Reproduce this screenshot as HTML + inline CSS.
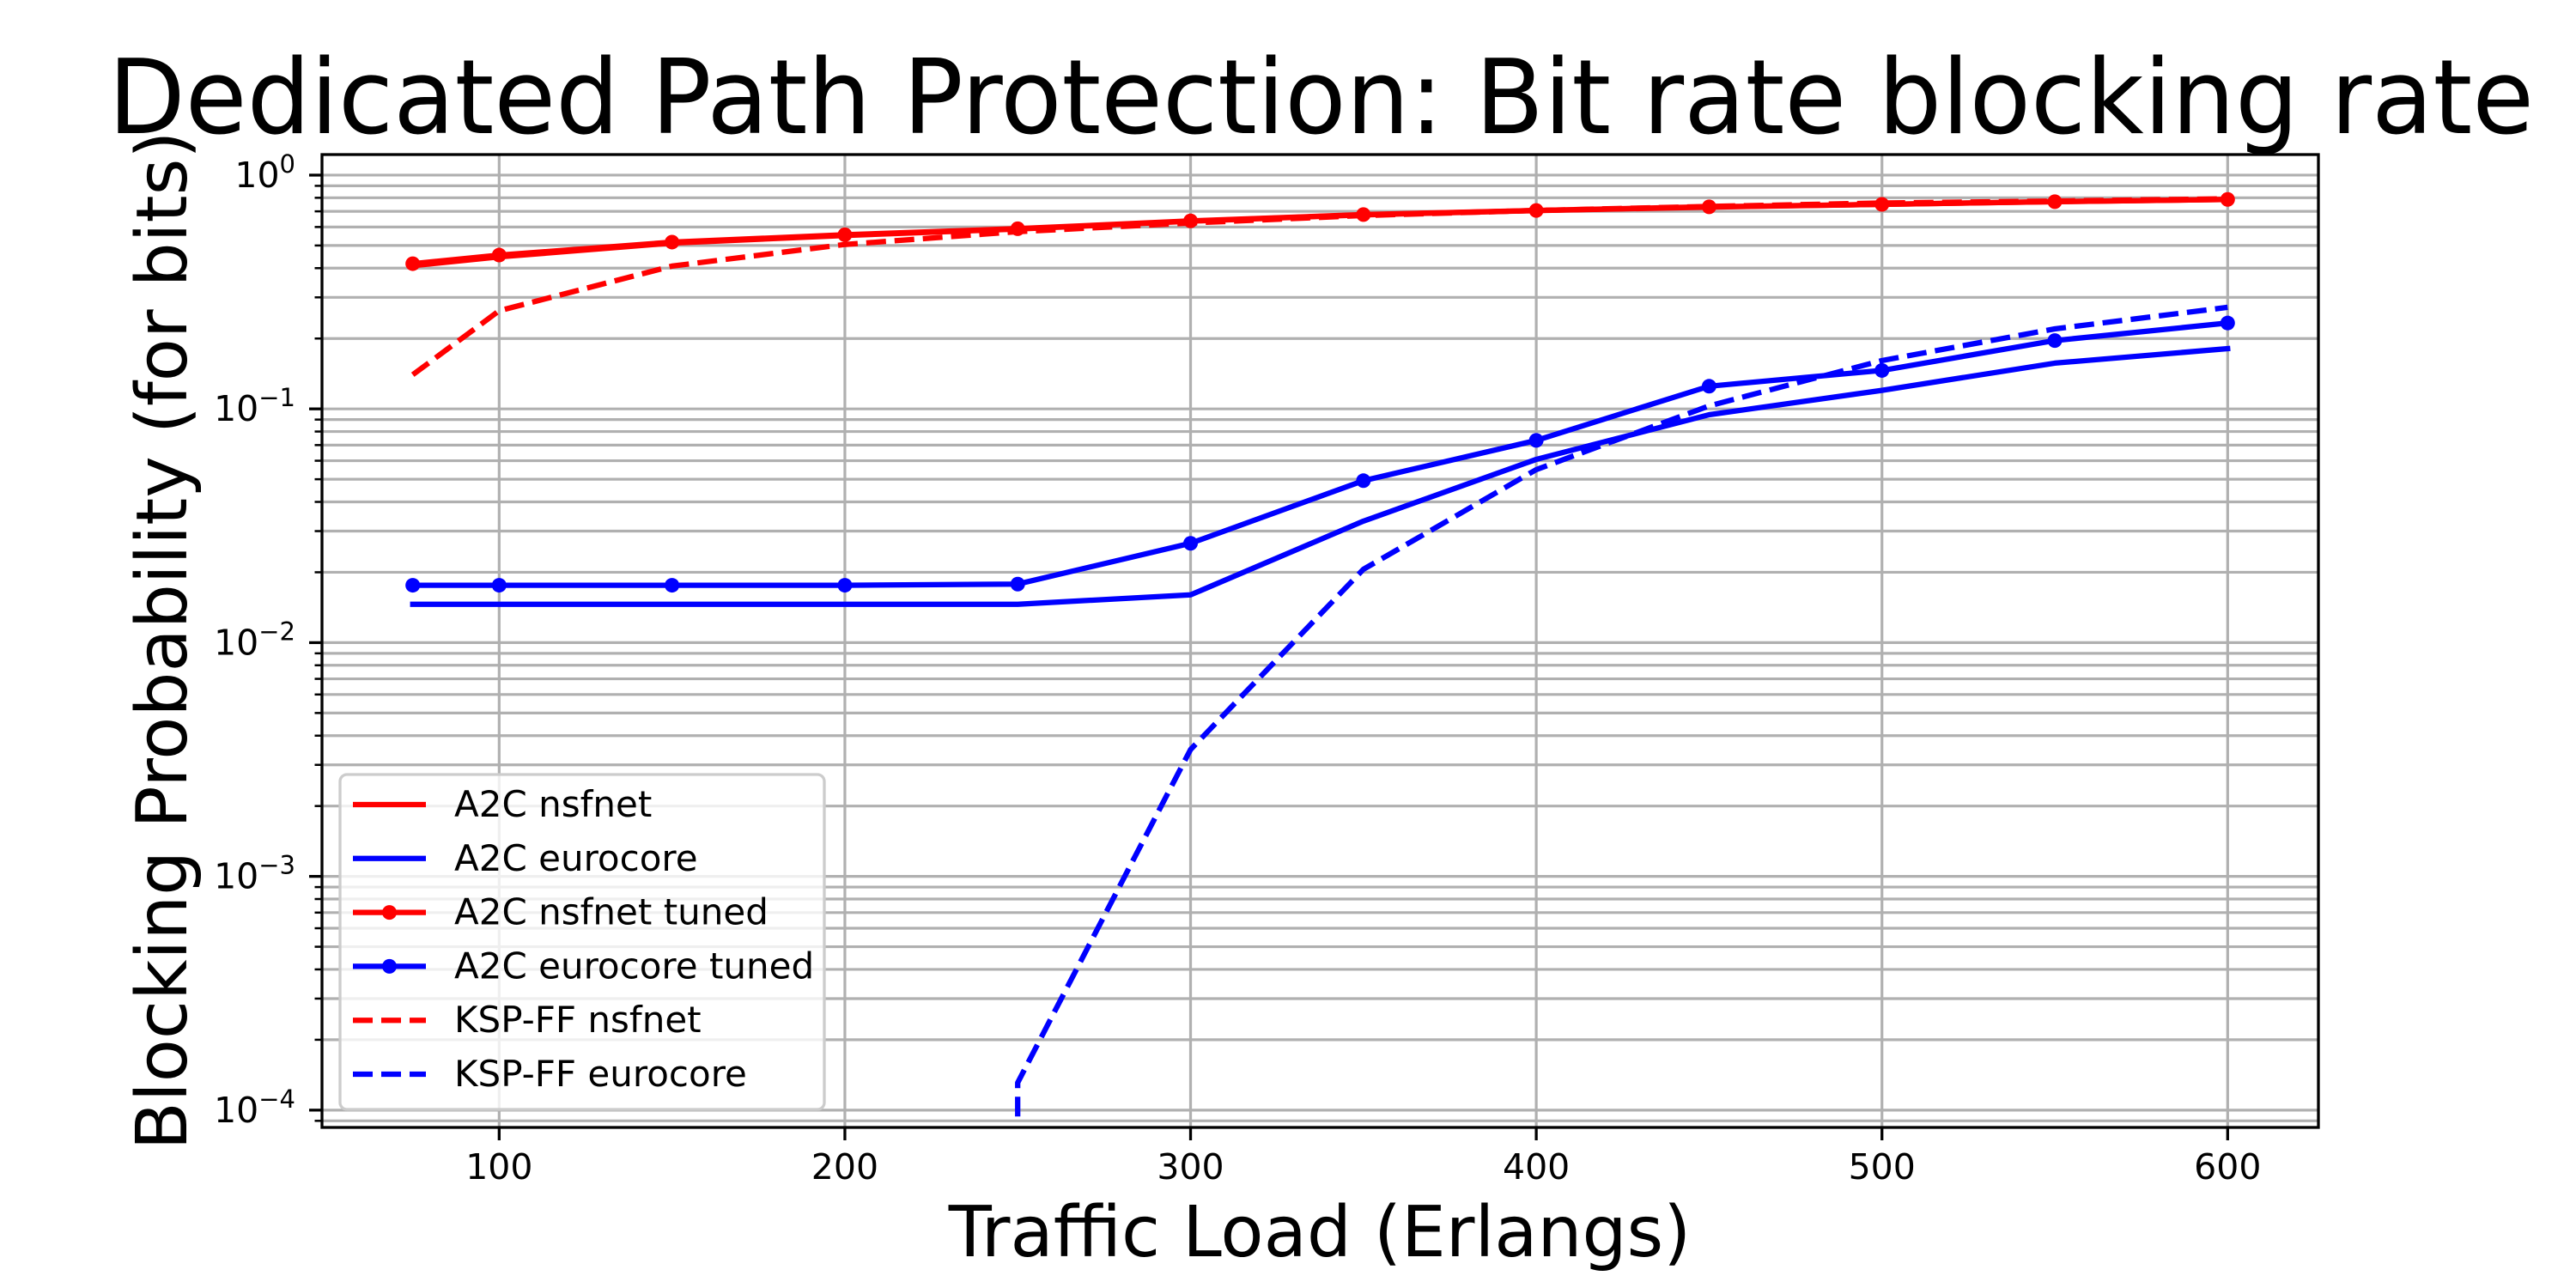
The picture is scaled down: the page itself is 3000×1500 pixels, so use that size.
<!DOCTYPE html>
<html><head><meta charset="utf-8"><style>
html,body{margin:0;padding:0;background:#fff;}
svg{display:block;font-family:"DejaVu Sans","Liberation Sans",sans-serif;}
</style></head><body>
<svg id="chart" width="3000" height="1500" viewBox="0 0 3000 1500" xmlns="http://www.w3.org/2000/svg">
<rect width="3000" height="1500" fill="#fff"/>
<g id="grid"></g>
<g id="series"></g>
<g id="axes"></g>
<text x="126" y="155" font-size="120" textLength="2825" lengthAdjust="spacingAndGlyphs">Dedicated Path Protection: Bit rate blocking rate</text>
<text x="1537" y="1463" font-size="82" text-anchor="middle">Traffic Load (Erlangs)</text>
<text x="0" y="0" font-size="82" text-anchor="middle" transform="translate(217,746) rotate(-90)">Blocking Probability (for bits)</text>
<g id="legend"></g>
</svg>
<script>
const loads = [75,100,150,200,250,300,350,400,450,500,550,600];
const a2cNsfnet = [0.41,0.447,0.512,0.552,0.588,0.635,0.676,0.705,0.73,0.75,0.77,0.787];
const a2cEurocore = [0.0146,0.0146,0.0146,0.0146,0.0146,0.016,0.0331,0.0608,0.0944,0.12,0.157,0.181];
const a2cNsfnetTuned = [0.418,0.455,0.517,0.556,0.59,0.637,0.678,0.706,0.732,0.75,0.77,0.787];
const a2cEurocoreTuned = [0.0176,0.0176,0.0176,0.0176,0.0178,0.0266,0.0493,0.0733,0.125,0.146,0.196,0.233];
const kspLoads = [75,100,150,200,250,300,350,400,450,500,550,600];
const kspNsfnet = [0.14,0.263,0.408,0.505,0.573,0.624,0.672,0.706,0.735,0.76,0.775,0.792];
const kspEuroLoads = [250,250,300,350,400,450,500,550,600];
const kspEurocore = [0.000094,0.000131,0.00349,0.0206,0.055,0.103,0.161,0.22,0.272];
const xTicks = [100,200,300,400,500,600];
const yTickExps = [0,-1,-2,-3,-4];

const L=375,R=2700,T=180,B=1313;
const X0=48.75,X1=626.25, LY0=-4.074, LY1=0.088;
const NS='http://www.w3.org/2000/svg';
function xs(v){return L+(v-X0)/(X1-X0)*(R-L);}
function ys(v){return B-(Math.log10(v)-LY0)/(LY1-LY0)*(B-T);}
function mk(tag,attrs,parent){const e=document.createElementNS(NS,tag);for(const k in attrs)e.setAttribute(k,attrs[k]);parent.appendChild(e);return e;}
const grid=document.getElementById('grid'),axes=document.getElementById('axes'),series=document.getElementById('series'),legend=document.getElementById('legend');

for(let d=-5; d<=0; d++){
  for(let m=1;m<=9;m++){
    const v=m*Math.pow(10,d); const y=ys(v);
    if(y<T-0.5||y>B+0.5) continue;
    const g=mk('line',{x1:L,x2:R,y1:y,y2:y,stroke:'#b0b0b0','stroke-width':3.2},grid);
    
    
    const t=mk('line',{x1:L,x2:L-(m===1?15:8.5),y1:y,y2:y,stroke:'#000','stroke-width':m===1?3.3:2.5},axes);
    
    
  }
}
yTickExps.forEach(e=>{
  const y=ys(Math.pow(10,e));
  const tx=mk('text',{x:344,y:y+14,'font-size':41,'text-anchor':'end'},axes);
  
  
  const t1=document.createElementNS(NS,'tspan');t1.textContent='10';tx.appendChild(t1);
  const t2=document.createElementNS(NS,'tspan');t2.setAttribute('dy','-17');t2.setAttribute('font-size','29');
  t2.textContent=(e===0?'0':'\u2212'+(-e));tx.appendChild(t2);
});
xTicks.forEach(v=>{
  const x=xs(v);
  const g=mk('line',{x1:x,x2:x,y1:T,y2:B,stroke:'#b0b0b0','stroke-width':3.2},grid);
  
  
  const t=mk('line',{x1:x,x2:x,y1:B,y2:B+15,stroke:'#000','stroke-width':3.3},axes);
  
  
  const tx=mk('text',{x:x,y:1373,'font-size':41,'text-anchor':'middle'},axes);
  tx.textContent=v;
  
  
});
const frame=mk('rect',{x:L,y:T,width:R-L,height:B-T,fill:'none',stroke:'#000','stroke-width':3.3},axes);



const defs=mk('defs',{},series);
const cp=mk('clipPath',{id:'plotclip'},defs);
mk('rect',{x:L,y:T,width:R-L,height:B-T},cp);

function drawSeries(xv,yv,color,dashed,markers,name){
  const g=mk('g',{'clip-path':'url(#plotclip)'},series);
  
  
  const pts=xv.map((x,i)=>xs(x).toFixed(1)+','+ys(yv[i]).toFixed(1)).join(' ');
  const attrs={points:pts,fill:'none',stroke:color,'stroke-width':6.25,'stroke-linejoin':'round'};
  if(dashed){attrs['stroke-dasharray']='23 10';}else{attrs['stroke-linecap']='square';}
  const pl=mk('polyline',attrs,g);
  
  
  if(markers){xv.forEach((x,i)=>{
    const c=mk('circle',{cx:xs(x),cy:ys(yv[i]),r:8.5,fill:color},g);
    
    
  });}
}
drawSeries(loads,a2cNsfnet,'#ff0000',false,false,'a2c-nsfnet-series');
drawSeries(loads,a2cEurocore,'#0000ff',false,false,'a2c-eurocore-series');
drawSeries(loads,a2cNsfnetTuned,'#ff0000',false,true,'a2c-nsfnet-tuned-series');
drawSeries(loads,a2cEurocoreTuned,'#0000ff',false,true,'a2c-eurocore-tuned-series');
drawSeries(kspLoads,kspNsfnet,'#ff0000',true,false,'ksp-ff-nsfnet-series');
drawSeries(kspEuroLoads,kspEurocore,'#0000ff',true,false,'ksp-ff-eurocore-series');

const lb=mk('rect',{x:396,y:902,width:564,height:390,rx:8,fill:'#fff','fill-opacity':0.8,stroke:'#cccccc','stroke-width':3.3},legend);


const entries=[['A2C nsfnet','#ff0000',false,false],['A2C eurocore','#0000ff',false,false],['A2C nsfnet tuned','#ff0000',false,true],['A2C eurocore tuned','#0000ff',false,true],['KSP-FF nsfnet','#ff0000',true,false],['KSP-FF eurocore','#0000ff',true,false]];
entries.forEach((e,i)=>{
  const y=937+i*62.8;
  const g=mk('g',{},legend);
  
  
  const a={x1:411,x2:496,y1:y,y2:y,stroke:e[1],'stroke-width':6.25};
  if(e[2])a['stroke-dasharray']='23 10';
  mk('line',a,g);
  if(e[3])mk('circle',{cx:453.5,cy:y,r:8.5,fill:e[1]},g);
  const t=mk('text',{x:529,y:y+14,'font-size':42},g);
  t.textContent=e[0];
});
</script>
</body></html>
